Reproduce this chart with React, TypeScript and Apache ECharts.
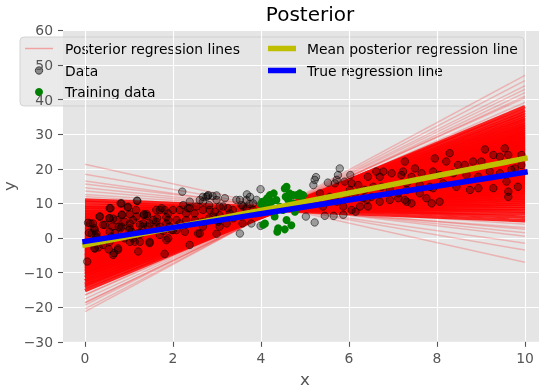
import React, { useEffect, useRef } from "react";
import * as echarts from "echarts";

// x positions where every regression line is evaluated
const lineX = [0, 10];
const xTicks = [0, 2, 4, 6, 8, 10];
const meanLine = [-2, 23]; // y at x=0, x=10
const trueLine = [-1, 19];

// posterior regression lines: [y at x=0, y at x=10]
const postInner: [number, number][] = [
  [10.3, 5], [11.0, 6], [8.8, 7], [9.4, 7.8], [7.6, 8.5], [8.3, 9.2], [6.6, 9.8], [7.3, 10.4],
  [5.6, 11], [6.5, 11.5], [4.8, 12], [5.7, 12.5], [4.0, 13], [5.0, 13.4], [3.3, 13.8], [4.4, 14.2],
  [2.7, 14.6], [3.7, 15], [2.0, 15.4], [3.1, 15.8], [1.5, 16.1], [2.6, 16.4], [1.0, 16.7], [2.2, 17],
  [0.5, 17.3], [1.7, 17.6], [0.1, 17.9], [1.2, 18.2], [-0.4, 18.5], [0.7, 18.8], [-0.8, 19], [0.3, 19.3],
  [-1.3, 19.6], [-0.1, 19.9], [-1.7, 20.1], [-0.5, 20.4], [-2.2, 20.7], [-0.9, 20.9], [-2.5, 21.1], [-1.3, 21.4],
  [-2.9, 21.6], [-1.7, 21.9], [-3.2, 22.1], [-2.0, 22.3], [-3.6, 22.6], [-2.4, 22.8], [-4.0, 23], [-2.8, 23.3],
  [-4.4, 23.5], [-3.1, 23.7], [-4.8, 24], [-3.5, 24.2], [-5.1, 24.5], [-3.9, 24.7], [-5.5, 25], [-4.3, 25.2],
  [-5.9, 25.5], [-4.8, 25.8], [-6.3, 26], [-5.2, 26.3], [-6.8, 26.6], [-5.6, 26.9], [-7.3, 27.2], [-6.1, 27.5],
  [-7.7, 27.8], [-6.6, 28.1], [-8.2, 28.4], [-7.0, 28.7], [-8.7, 29], [-7.6, 29.4], [-9.3, 29.8], [-8.2, 30.2],
  [-9.9, 30.6], [-8.8, 31], [-10.6, 31.5], [-9.6, 32], [-11.4, 32.5], [-10.4, 33], [-12.3, 33.6], [-11.4, 34.2],
  [-13.2, 34.8], [-12.4, 35.5], [-14.3, 36.2], [-13.6, 37], [-15.2, 38],
];
const postOuter: [number, number][] = [
  [21.3, -7], [18.4, -3.5], [16.5, -1.5], [15.6, 0.5], [14.5, 1.5], [13.6, 2.5], [12.0, 3], [12.6, 4],
  [-16.5, 39.2], [-16.4, 40.5], [-17.6, 41], [-18.6, 42], [-18.8, 43], [-19.4, 44], [-20.5, 45.5], [-21.3, 47],
];

// observed data [x, y]
const dataPoints: [number, number][] = [
  [0.05, -6.8], [0.12, 4.2], [0.21, 2.8], [0.09, 1.5], [0.26, 1.2], [0.34, 6.2], [0.22, -3.0], [0.31, -2.7],
  [0.56, 8.6], [0.66, -4.4], [0.54, -3.3], [0.45, 3.8], [0.6, 0.4], [0.77, 3.2], [0.64, 5.6], [0.84, 6.6],
  [0.97, 8.8], [0.83, 10.0], [1.0, 2.3], [1.09, 5.2], [1.16, 8.1], [1.19, 10.7], [1.24, 1.3], [1.31, 3.3],
  [1.34, 6.6], [1.13, -1.1], [1.21, -3.9], [1.47, -1.1], [1.55, 5.2], [1.62, 3.3], [1.62, 8.1], [1.7, 0.9],
  [1.78, 2.0], [1.81, -4.6], [1.93, 3.3], [1.85, 6.0], [2.0, 8.1], [2.15, 8.1], [2.08, 5.2], [2.08, 2.3],
  [2.21, 13.4], [2.23, 9.5], [2.3, 7.1], [2.34, 8.6], [2.38, -2.0], [2.49, 7.1], [2.61, 11.0], [2.68, 11.9],
  [2.76, 11.9], [2.8, 12.4], [2.61, 1.3], [2.68, 3.3], [2.83, 8.1], [2.91, 6.2], [2.99, 11.0], [3.03, 5.2],
  [3.06, 3.3], [3.14, 9.1], [3.18, 11.5], [3.29, 7.1], [3.36, 8.1], [3.44, 11.0], [3.52, 11.0], [3.59, 9.1],
  [3.68, 12.6], [3.74, 9.8], [3.82, 8.1], [3.78, 4.2], [3.9, 11.0], [3.99, 14.1], [3.99, 3.5], [3.58, 4.2],
  [0.56, 5.7], [1.02, 4.2], [0.83, 3.3], [0.68, 1.4], [0.56, -1.1], [0.75, -3.0], [1.06, 1.8], [1.21, 1.4],
  [1.32, 4.2], [1.43, 3.3], [1.74, 8.6], [1.89, 7.1], [1.85, 4.2], [1.7, 3.3], [1.96, 2.3], [1.85, -0.6],
  [1.25, -1.1], [1.02, -1.1], [0.26, 0.0], [1.4, 6.9],
  [0.81, 10.0], [0.98, 9.0], [1.18, 10.8], [0.58, 8.6], [0.84, 6.8], [1.02, 6.8], [1.34, 6.9], [0.33, 6.2],
  [0.55, 5.7], [0.72, 5.2], [0.9, 4.7], [1.17, 6.2], [1.41, 6.4], [1.64, 5.7], [0.07, 4.4], [0.18, 4.2],
  [0.22, 2.3], [0.41, 3.8], [0.62, 3.3], [0.81, 2.8], [1.02, 2.8], [1.25, 3.8], [1.47, 4.2], [1.7, 8.1],
  [1.81, 8.1], [1.89, 5.2], [1.62, 4.7], [0.15, 1.3], [0.26, 0.4], [0.56, 1.8], [1.28, 1.3], [1.09, -0.1],
  [0.9, -0.1], [1.89, -0.1], [1.47, -1.5], [0.41, -2.0], [0.22, -3.0], [0.64, -4.9], [0.75, -3.4],
  [2.79, 12.1], [2.9, 12.1], [2.99, 12.3], [3.67, 11.0], [3.75, 11.9], [2.38, 8.6], [2.53, 9.1], [2.68, 8.1],
  [2.82, 9.5], [2.95, 7.6], [3.06, 9.1], [3.25, 8.6], [3.56, 9.5], [3.67, 8.6], [3.82, 10.0], [2.15, 4.2],
  [2.3, 5.2], [2.5, 5.2], [2.68, 4.7], [2.82, 5.7], [3.03, 4.7], [3.22, 4.2], [3.37, 5.7], [2.0, 2.3],
  [2.27, 1.8], [2.57, 1.3], [2.99, 1.2], [3.52, 1.3], [3.06, 6.6], [2.68, 10.5], [2.38, 10.5],
  [5.22, 16.8], [5.19, 15.3], [5.25, 17.6], [5.79, 20.1], [5.75, 18.2], [6.03, 18.2], [5.68, 15.8], [5.02, 6.2],
  [5.22, 4.5], [5.45, 6.4], [5.65, 6.4], [6.15, 7.6], [5.52, 16.0], [5.72, 16.8], [5.9, 16.3], [6.06, 15.8],
  [6.21, 15.3], [6.43, 17.7], [6.62, 19.2], [6.78, 19.2], [6.97, 18.7], [7.19, 18.2], [6.36, 13.9], [6.55, 14.8],
  [6.74, 14.8], [6.93, 13.9], [7.12, 12.9], [7.31, 13.9], [5.94, 12.4], [6.13, 12.9], [6.32, 11.5], [6.51, 11.9],
  [6.7, 10.5], [6.93, 11.0], [7.12, 11.5], [7.31, 10.5], [5.87, 9.1], [6.06, 8.1], [6.25, 9.1], [6.43, 9.1],
  [5.87, 6.7], [5.34, 12.9], [5.56, 11.9], [5.72, 10.5], [5.41, 9.1], [6.7, 17.7], [6.02, 13.9], [6.4, 11.0],
  [7.27, 22.1], [7.5, 20.1], [7.95, 23.0], [8.29, 24.5], [8.21, 22.1], [8.48, 21.1], [8.63, 21.1], [8.82, 22.1],
  [9.01, 22.1], [9.09, 25.6], [9.28, 24.0], [9.43, 23.5], [9.54, 25.9], [9.62, 24.0], [9.92, 24.0], [7.23, 19.2],
  [7.42, 17.7], [7.65, 18.7], [7.91, 19.2], [8.06, 18.2], [8.37, 18.7], [8.67, 18.2], [8.94, 17.7], [9.2, 19.2],
  [9.43, 18.7], [9.69, 19.7], [9.77, 20.1], [9.92, 21.1], [7.31, 15.8], [7.61, 15.3], [7.84, 14.8], [8.14, 15.8],
  [8.44, 14.8], [8.75, 13.9], [8.94, 14.4], [9.28, 14.4], [9.58, 16.3], [9.62, 13.4], [9.62, 11.9], [9.84, 14.8],
  [7.27, 11.0], [7.42, 10.0], [7.76, 11.5], [7.88, 10.0], [8.06, 10.5], [7.91, 14.4], [7.61, 12.9],
];

// training subset [x, y]
const trainingPoints: [number, number][] = [
  [4.03, 10.5], [4.14, 11.5], [4.2, 12.4], [4.29, 12.9], [4.24, 10.5], [4.35, 11.0], [4.16, 9.0], [4.09, 4.2],
  [4.05, 3.8], [4.31, 6.2], [4.39, 2.8], [4.37, 1.8], [4.54, 2.5], [4.58, 5.2], [4.5, 8.1], [4.62, 9.0],
  [4.56, 11.9], [4.58, 14.8], [4.65, 12.9], [4.62, 11.0], [4.73, 12.4], [4.77, 7.6], [4.88, 12.9], [4.92, 11.9],
  [4.96, 12.4], [4.73, 10.0], [4.43, 9.0], [4.54, 14.3], [4.81, 12.4], [4.69, 3.7], [4.0, 9.8], [4.1, 10.8],
];

const legendLeft = ["Posterior regression lines", "Data", "Training data"];
const legendRight = ["Mean posterior regression line", "True regression line"];

const FONT = "DejaVu Sans";
const RED = "#ff0000";
const OLIVE = "#BFBF00";
const BLUE = "#0000ff";
const GREEN = "#008000";

export default function App() {
  const ref = useRef<HTMLDivElement>(null);
  useEffect(() => {
    const chart = echarts.init(ref.current!, null, { renderer: "svg" });
    const seg = (p: [number, number]) => ({ coords: [[lineX[0], p[0]], [lineX[1], p[1]]] });
    const rowY = [48.5, 70.5, 92];
    const txt = (text: string, x: number, y: number) => ({
      type: "text",
      style: {
        text, x, y, fill: "#000", font: `13.9px "${FONT}"`,
        align: "left", textAlign: "left", verticalAlign: "middle", textVerticalAlign: "middle",
      },
    });
    chart.setOption({
      animation: false,
      textStyle: { fontFamily: FONT },
      title: {
        text: "Posterior", left: 305, top: -1, textAlign: "center",
        textStyle: { fontSize: 20, fontWeight: "normal", color: "#000", fontFamily: FONT },
      },
      grid: {
        left: 63, right: -8, top: 30.4, bottom: 47.2, show: true,
        backgroundColor: "#E5E5E5", borderWidth: 0, containLabel: false, outerBoundsMode: "none",
      },
      xAxis: {
        type: "value", min: -0.5, max: 10.5, minInterval: 2, maxInterval: 2,
        name: "x", nameLocation: "middle", nameGap: 28, nameMoveOverlap: false,
        nameTextStyle: { color: "#555", fontSize: 16.7, fontFamily: FONT, lineHeight: 18 },
        axisLine: { show: false, onZero: false },
        axisTick: { show: true, length: 5, customValues: xTicks, lineStyle: { color: "#555", width: 1.1 } },
        axisLabel: { customValues: xTicks, color: "#555", fontSize: 13.9, margin: 9, fontFamily: FONT },
        splitLine: { show: true, lineStyle: { color: "#fff", width: 1.1 } },
      },
      yAxis: {
        type: "value", min: -30, max: 60, interval: 10,
        name: "y", nameLocation: "middle", nameGap: 45, nameRotate: 90, nameMoveOverlap: false,
        nameTextStyle: { color: "#555", fontSize: 16.7, fontFamily: FONT, lineHeight: 18 },
        axisLine: { show: false, onZero: false },
        axisTick: { show: true, length: 5, lineStyle: { color: "#555", width: 1.1 } },
        axisLabel: {
          color: "#555", fontSize: 13.9, margin: 10, fontFamily: FONT,
          formatter: (v: number) => String(v).replace("-", "\u2212"),
        },
        splitLine: { show: true, lineStyle: { color: "#fff", width: 1.1 } },
      },
      series: [
        {
          name: "Posterior regression lines", type: "lines", coordinateSystem: "cartesian2d",
          data: postOuter.map(seg), lineStyle: { color: RED, width: 1.5, opacity: 0.22 }, z: 1, silent: true,
        },
        {
          name: "Posterior regression lines (dense)", type: "lines", coordinateSystem: "cartesian2d",
          data: postInner.map(seg), lineStyle: { color: RED, width: 3.5, opacity: 0.85 }, z: 1, silent: true,
        },
        {
          name: "Data", type: "scatter", data: dataPoints, symbolSize: 7.5, z: 2,
          itemStyle: { color: "rgba(0,0,0,0.4)", borderColor: "rgba(0,0,0,0.65)", borderWidth: 1 },
        },
        {
          name: "Training data", type: "scatter", data: trainingPoints, symbolSize: 8, z: 3,
          itemStyle: { color: GREEN, opacity: 1 },
        },
        {
          name: "Mean posterior regression line", type: "line", z: 4, showSymbol: false, symbol: "none",
          data: lineX.map((x, i) => [x, meanLine[i]]),
          lineStyle: { color: OLIVE, width: 5.5, cap: "square" },
        },
        {
          name: "True regression line", type: "line", z: 5, showSymbol: false, symbol: "none",
          data: lineX.map((x, i) => [x, trueLine[i]]),
          lineStyle: { color: BLUE, width: 5.5, cap: "square" },
        },
      ],
      graphic: [
        {
          type: "group", z: 100, children: [
            {
              type: "rect", shape: { x: 20, y: 37, width: 504, height: 69, r: 4 },
              style: { fill: "rgba(229,229,229,0.8)", stroke: "rgba(204,204,204,0.8)", lineWidth: 1 },
            },
            { type: "line", shape: { x1: 25, y1: rowY[0], x2: 53, y2: rowY[0] }, style: { stroke: "rgba(255,0,0,0.3)", lineWidth: 1.5 } },
            { type: "circle", shape: { cx: 39, cy: rowY[1], r: 3.7 }, style: { fill: "rgba(0,0,0,0.4)", stroke: "rgba(0,0,0,0.65)", lineWidth: 1 } },
            { type: "circle", shape: { cx: 39, cy: rowY[2], r: 4 }, style: { fill: GREEN } },
            txt(legendLeft[0], 65, rowY[0]),
            txt(legendLeft[1], 65, rowY[1]),
            txt(legendLeft[2], 65, rowY[2]),
            { type: "line", shape: { x1: 268, y1: rowY[0], x2: 296, y2: rowY[0] }, style: { stroke: OLIVE, lineWidth: 5.5 } },
            { type: "line", shape: { x1: 268, y1: rowY[1], x2: 296, y2: rowY[1] }, style: { stroke: BLUE, lineWidth: 5.5 } },
            txt(legendRight[0], 307, rowY[0]),
            txt(legendRight[1], 307, rowY[1]),
          ],
        },
      ],
    });
    return () => chart.dispose();
  }, []);
  return <div ref={ref} style={{ position: "fixed", left: 0, top: 0, width: 539, height: 389 }} />;
}
